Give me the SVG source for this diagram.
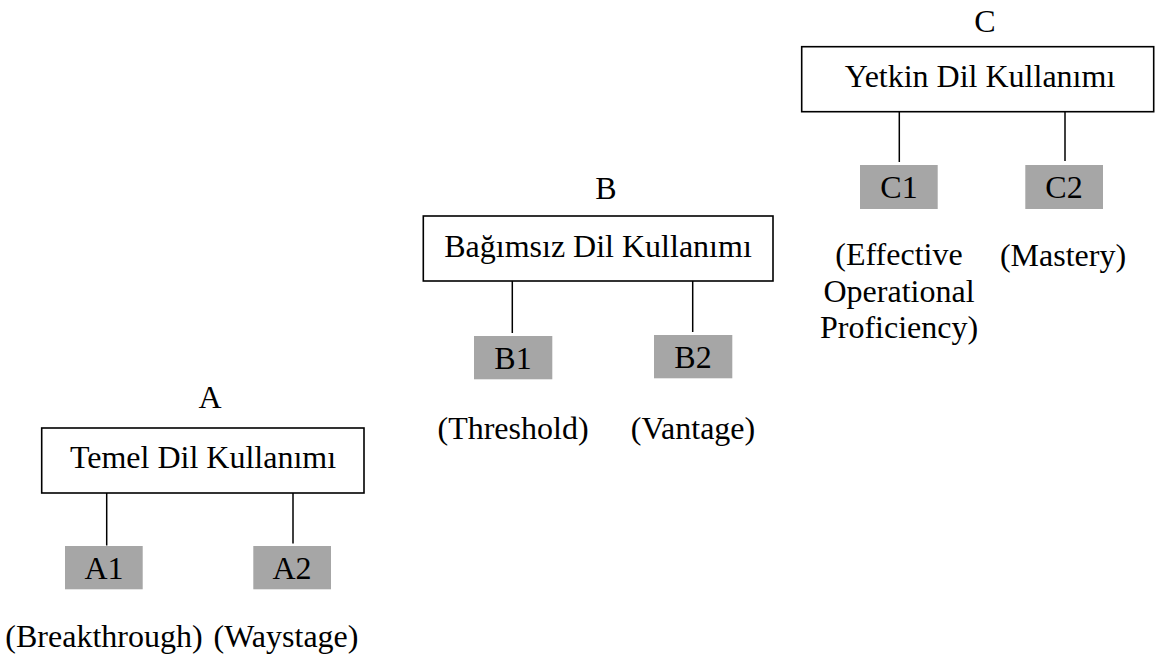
<svg xmlns="http://www.w3.org/2000/svg" width="1157" height="657" viewBox="0 0 1157 657">
<style>
text{font-family:"Liberation Serif","Times New Roman",serif;font-size:32px;fill:#000;text-anchor:middle}
.box{fill:#fff;stroke:#000;stroke-width:1.6}
.lvl{fill:#a6a6a6;stroke:none}
.conn line{stroke:#000;stroke-width:1.5}
</style>
<rect width="1157" height="657" fill="#fff"/>
<g class="conn" id="connectors">
<line x1="106.7" y1="493" x2="106.7" y2="545.5"/>
<line x1="293" y1="493" x2="293" y2="543.5"/>
<line x1="512.3" y1="281" x2="512.3" y2="333"/>
<line x1="692.7" y1="281" x2="692.7" y2="332"/>
<line x1="899.3" y1="111.7" x2="899.3" y2="162"/>
<line x1="1065" y1="111.7" x2="1065" y2="161"/>
</g>
<g id="A">
<text x="210" y="408">A</text>
<rect class="box" x="41.7" y="428" width="322.3" height="65"/>
<text x="203" y="468">Temel Dil Kullanımı</text>
</g>
<g id="A1">
<rect class="lvl" x="65" y="546" width="77.7" height="43.3"/>
<text x="104" y="579">A1</text>
<text x="104" y="647">(Breakthrough)</text>
</g>
<g id="A2">
<rect class="lvl" x="253.3" y="546" width="77.7" height="43.3"/>
<text x="286" y="647">(Waystage)</text>
<text x="292" y="579">A2</text>
</g>
<g id="B">
<text x="606" y="199">B</text>
<rect class="box" x="423.3" y="216" width="349.7" height="65"/>
<text x="598" y="257">Bağımsız Dil Kullanımı</text>
</g>
<g id="B1">
<rect class="lvl" x="474" y="336" width="78.3" height="43.3"/>
<text x="513" y="369">B1</text>
<text x="513" y="439">(Threshold)</text>
</g>
<g id="B2">
<rect class="lvl" x="654" y="335" width="78.3" height="43.3"/>
<text x="693" y="368">B2</text>
<text x="693" y="439">(Vantage)</text>
</g>
<g id="C">
<text x="985" y="32">C</text>
<rect class="box" x="801.7" y="46.7" width="352" height="65"/>
<text x="980" y="87">Yetkin Dil Kullanımı</text>
</g>
<g id="C1">
<rect class="lvl" x="860" y="165" width="77.7" height="44"/>
<text x="899" y="198">C1</text>
<text x="899" y="265">(Effective</text>
<text x="899" y="302">Operational</text>
<text x="899" y="338">Proficiency)</text>
</g>
<g id="C2">
<rect class="lvl" x="1025.3" y="165" width="77.7" height="44"/>
<text x="1064" y="198">C2</text>
<text x="1063" y="266">(Mastery)</text>
</g>
</svg>
